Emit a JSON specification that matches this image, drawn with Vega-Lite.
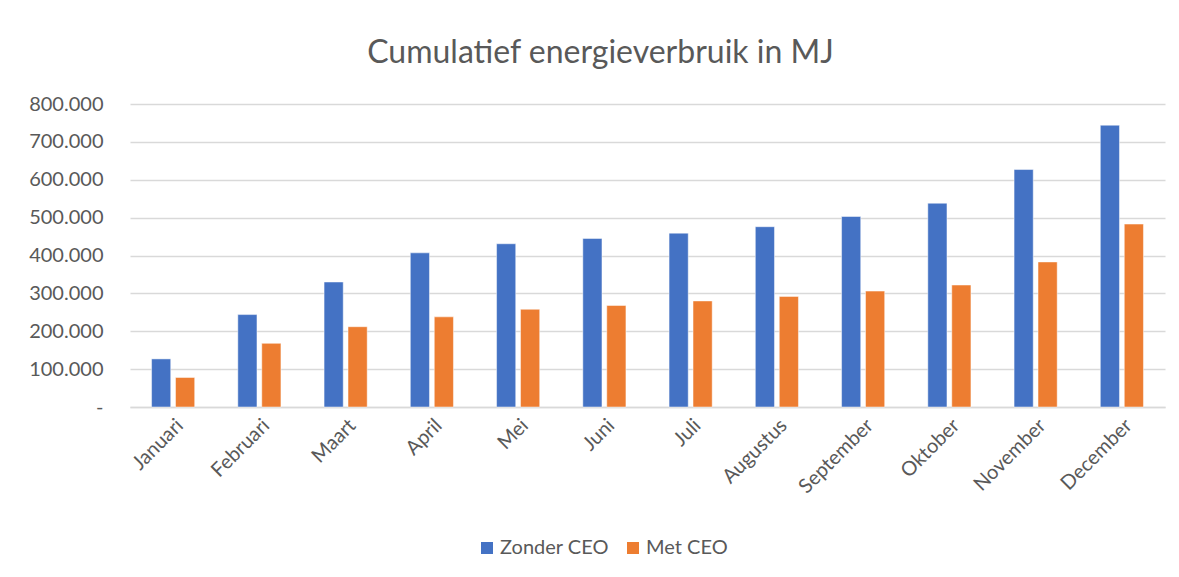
{
  "$schema": "https://vega.github.io/schema/vega-lite/v6.json",
  "autosize": {"type": "none"},
  "width": 1035,
  "height": 303,
  "padding": {"left": 130, "top": 104, "right": 14, "bottom": 170},
  "background": "white",
  "title": {
    "text": "Cumulatief energieverbruik in MJ",
    "font": "Lato",
    "fontSize": 32,
    "fontWeight": "normal",
    "color": "#595959",
    "anchor": "middle",
    "dx": -47,
    "offset": 24
  },
  "data": {
    "values": [
      {"maand": "Januari", "reeks": "Zonder CEO", "mj": 127000},
      {"maand": "Januari", "reeks": "Met CEO", "mj": 78000},
      {"maand": "Februari", "reeks": "Zonder CEO", "mj": 244000},
      {"maand": "Februari", "reeks": "Met CEO", "mj": 168000},
      {"maand": "Maart", "reeks": "Zonder CEO", "mj": 330000},
      {"maand": "Maart", "reeks": "Met CEO", "mj": 212000},
      {"maand": "April", "reeks": "Zonder CEO", "mj": 407000},
      {"maand": "April", "reeks": "Met CEO", "mj": 238000},
      {"maand": "Mei", "reeks": "Zonder CEO", "mj": 431000},
      {"maand": "Mei", "reeks": "Met CEO", "mj": 258000},
      {"maand": "Juni", "reeks": "Zonder CEO", "mj": 445000},
      {"maand": "Juni", "reeks": "Met CEO", "mj": 268000},
      {"maand": "Juli", "reeks": "Zonder CEO", "mj": 459000},
      {"maand": "Juli", "reeks": "Met CEO", "mj": 280000},
      {"maand": "Augustus", "reeks": "Zonder CEO", "mj": 476000},
      {"maand": "Augustus", "reeks": "Met CEO", "mj": 292000},
      {"maand": "September", "reeks": "Zonder CEO", "mj": 503000},
      {"maand": "September", "reeks": "Met CEO", "mj": 306000},
      {"maand": "Oktober", "reeks": "Zonder CEO", "mj": 538000},
      {"maand": "Oktober", "reeks": "Met CEO", "mj": 322000},
      {"maand": "November", "reeks": "Zonder CEO", "mj": 627000},
      {"maand": "November", "reeks": "Met CEO", "mj": 383000},
      {"maand": "December", "reeks": "Zonder CEO", "mj": 744000},
      {"maand": "December", "reeks": "Met CEO", "mj": 483000}
    ]
  },
  "mark": {"type": "bar", "stroke": "white", "strokeWidth": 0.8, "strokeOpacity": 0.6},
  "encoding": {
    "x": {
      "field": "maand",
      "type": "nominal",
      "sort": null,
      "title": null,
      "scale": {"paddingInner": 0.5, "paddingOuter": 0.25},
      "axis": {
        "labelAngle": -45,
        "labelFont": "Lato",
        "labelFontSize": 20,
        "labelColor": "#595959",
        "labelPadding": 8,
        "ticks": false,
        "domainColor": "#d9d9d9",
        "domainWidth": 1.5,
        "grid": false
      }
    },
    "xOffset": {
      "field": "reeks",
      "type": "nominal",
      "sort": ["Zonder CEO", "Met CEO"],
      "scale": {"paddingInner": 0.2}
    },
    "y": {
      "field": "mj",
      "type": "quantitative",
      "title": null,
      "scale": {"domain": [0, 800000], "nice": false},
      "axis": {
        "values": [0, 100000, 200000, 300000, 400000, 500000, 600000, 700000, 800000],
        "labelExpr": "datum.value == 0 ? '-\u00a0\u00a0\u00a0' : replace(format(datum.value, ','), ',', '.')",
        "labelFont": "Lato",
        "labelFontSize": 20,
        "labelColor": "#595959",
        "labelPadding": 27,
        "ticks": false,
        "domain": false,
        "gridColor": "#d9d9d9",
        "gridWidth": 1.5
      }
    },
    "color": {
      "field": "reeks",
      "type": "nominal",
      "sort": ["Zonder CEO", "Met CEO"],
      "scale": {"domain": ["Zonder CEO", "Met CEO"], "range": ["#4472C4", "#ED7D31"]},
      "legend": {
        "orient": "none",
        "legendX": 347,
        "legendY": 434,
        "direction": "horizontal",
        "title": null,
        "symbolType": "square",
        "symbolSize": 144,
        "symbolStrokeWidth": 0,
        "labelFont": "Lato",
        "labelFontSize": 20,
        "labelColor": "#595959",
        "labelOffset": 3,
        "columnPadding": 14
      }
    }
  },
  "config": {
    "view": {"stroke": null}
  }
}
